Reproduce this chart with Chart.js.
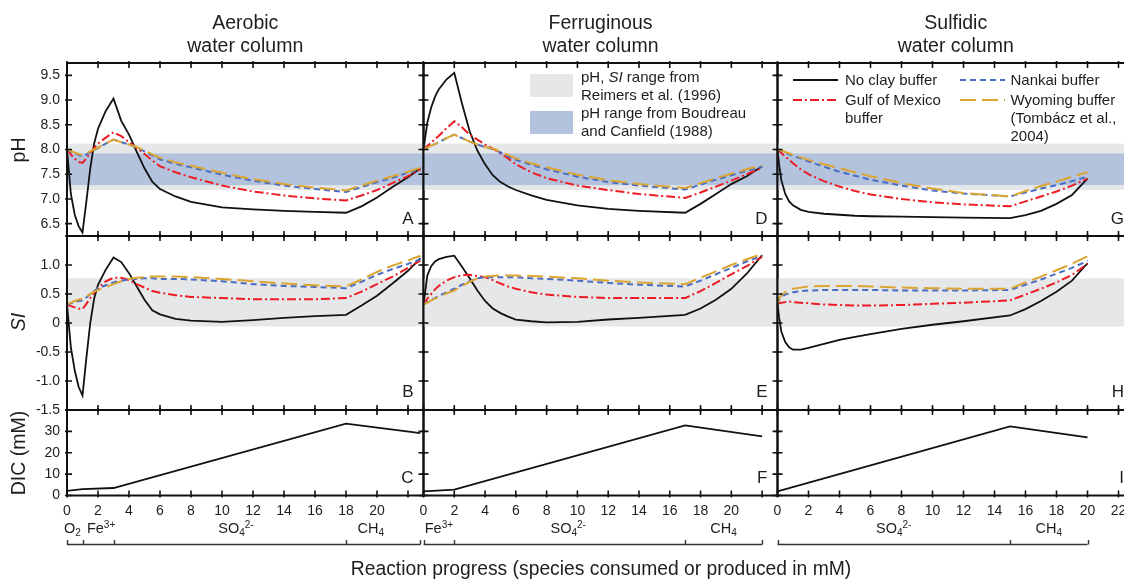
<!DOCTYPE html>
<html>
<head>
<meta charset="utf-8">
<script src="https://cdn.jsdelivr.net/npm/chart.js@4.4.0/dist/chart.umd.min.js"></script>
<style>
  html, body { margin: 0; padding: 0; background: #fff; overflow: hidden; }
  #wrap { position: relative; width: 1124px; height: 580px; overflow: hidden;
          font-family: "Liberation Sans", Arial, Helvetica, sans-serif; color: #1e1e1e; }
  .pane { position: absolute; left: 0; top: 0; }
  .txt { position: absolute; white-space: nowrap; }
  .ctitle { font-size: 19.5px; line-height: 23px; text-align: center; transform: translateX(-50%); }
  .ytitle { font-size: 19.5px; line-height: 1; transform: translate(-50%, -50%) rotate(-90deg); }
  .letter { font-size: 17px; line-height: 1; transform: translateX(-100%); }
  .leg { font-size: 15px; }
  .species { font-size: 14.5px; line-height: 1; transform: translateX(-50%); }
  .species sub, .species sup { font-size: 10px; line-height: 0; }
  .species sub { vertical-align: -3px; }
  .species sup { vertical-align: 5px; }
  .box { position: absolute; }
</style>
</head>
<body>
<div id="wrap"></div>
<script>
// ---- data ----
const AER_X = [0, 0.25, 0.5, 0.75, 1, 1.25, 1.5, 1.75, 2, 2.5, 3, 3.5, 4, 4.5, 5, 5.5, 6, 7, 8, 10, 12, 14, 16, 18, 19, 20, 21, 22, 22.8];
const PH_AER_NOCLAY  = [8.0, 7.1, 6.68, 6.45, 6.32, 6.95, 7.62, 8.12, 8.42, 8.78, 9.03, 8.58, 8.3, 7.95, 7.62, 7.35, 7.2, 7.05, 6.94, 6.83, 6.79, 6.76, 6.74, 6.72, 6.85, 7.03, 7.24, 7.44, 7.62];
const PH_AER_GULF    = [8.0, 7.9, 7.81, 7.75, 7.73, 7.82, 7.93, 8.03, 8.12, 8.24, 8.35, 8.27, 8.15, 8.03, 7.91, 7.78, 7.66, 7.54, 7.44, 7.27, 7.15, 7.07, 7.01, 6.97, 7.07, 7.18, 7.32, 7.46, 7.6];
const PH_AER_NANKAI  = [8.0, 7.96, 7.93, 7.89, 7.86, 7.9, 7.94, 7.99, 8.03, 8.12, 8.2, 8.15, 8.1, 8.04, 7.96, 7.88, 7.8, 7.71, 7.64, 7.49, 7.37, 7.27, 7.2, 7.14, 7.24, 7.34, 7.43, 7.53, 7.61];
const PH_AER_WYOMING = [8.0, 7.97, 7.94, 7.91, 7.88, 7.92, 7.96, 8.0, 8.04, 8.12, 8.2, 8.15, 8.1, 8.05, 7.98, 7.9, 7.83, 7.74, 7.67, 7.53, 7.4, 7.3, 7.23, 7.17, 7.27, 7.37, 7.46, 7.55, 7.63];
const SI_AER_NOCLAY  = [0.32, -0.42, -0.82, -1.1, -1.25, -0.6, 0.0, 0.42, 0.66, 0.92, 1.13, 1.05, 0.86, 0.63, 0.4, 0.22, 0.15, 0.07, 0.04, 0.02, 0.05, 0.09, 0.12, 0.14, 0.3, 0.47, 0.68, 0.9, 1.12];
const SI_AER_GULF    = [0.32, 0.29, 0.27, 0.25, 0.24, 0.33, 0.43, 0.52, 0.6, 0.72, 0.78, 0.78, 0.74, 0.67, 0.61, 0.55, 0.52, 0.48, 0.45, 0.43, 0.41, 0.41, 0.41, 0.43, 0.54, 0.67, 0.8, 0.95, 1.08];
const SI_AER_NANKAI  = [0.32, 0.34, 0.36, 0.38, 0.39, 0.44, 0.5, 0.55, 0.6, 0.65, 0.7, 0.73, 0.75, 0.76, 0.77, 0.77, 0.76, 0.76, 0.75, 0.72, 0.67, 0.64, 0.62, 0.6, 0.71, 0.83, 0.93, 1.02, 1.1];
const SI_AER_WYOMING = [0.32, 0.35, 0.38, 0.4, 0.42, 0.46, 0.5, 0.54, 0.57, 0.62, 0.67, 0.72, 0.76, 0.78, 0.79, 0.8, 0.8, 0.8, 0.79, 0.76, 0.72, 0.68, 0.65, 0.63, 0.75, 0.88, 0.99, 1.08, 1.16];
const DIC_AER_X = [0, 1, 3, 18, 22.8];
const DIC_AER   = [2.2, 3.0, 3.5, 33.6, 29.2];

const FER_X = [0, 0.25, 0.5, 0.75, 1, 1.5, 2, 2.5, 3, 3.5, 4, 4.5, 5, 5.5, 6, 7, 8, 10, 12, 14, 17, 18, 19, 20, 21, 22];
const PH_FER_NOCLAY  = [8.0, 8.55, 8.85, 9.07, 9.22, 9.42, 9.55, 8.93, 8.37, 7.98, 7.7, 7.48, 7.34, 7.25, 7.18, 7.07, 6.98, 6.87, 6.8, 6.76, 6.72, 6.9, 7.1, 7.3, 7.46, 7.66];
const PH_FER_GULF    = [8.0, 8.07, 8.14, 8.21, 8.28, 8.43, 8.57, 8.45, 8.3, 8.2, 8.1, 8.02, 7.92, 7.82, 7.7, 7.54, 7.42, 7.27, 7.18, 7.1, 7.02, 7.13, 7.25, 7.37, 7.5, 7.63];
const PH_FER_NANKAI  = [8.0, 8.04, 8.08, 8.11, 8.15, 8.23, 8.3, 8.23, 8.16, 8.1, 8.05, 8.01, 7.94, 7.86, 7.79, 7.69, 7.6, 7.45, 7.34, 7.27, 7.19, 7.29, 7.39, 7.48, 7.57, 7.65];
const PH_FER_WYOMING = [8.0, 8.04, 8.08, 8.11, 8.15, 8.23, 8.3, 8.23, 8.16, 8.1, 8.05, 8.02, 7.96, 7.89, 7.82, 7.72, 7.64, 7.49, 7.38, 7.3, 7.22, 7.32, 7.42, 7.51, 7.6, 7.68];
const SI_FER_NOCLAY  = [0.32, 0.82, 0.98, 1.06, 1.1, 1.14, 1.16, 0.97, 0.77, 0.56, 0.38, 0.25, 0.17, 0.11, 0.06, 0.03, 0.01, 0.02, 0.06, 0.09, 0.14, 0.25, 0.4, 0.59, 0.85, 1.17];
const SI_FER_GULF    = [0.32, 0.42, 0.5, 0.58, 0.64, 0.73, 0.79, 0.82, 0.83, 0.81, 0.79, 0.74, 0.68, 0.63, 0.59, 0.53, 0.49, 0.45, 0.43, 0.43, 0.43, 0.55, 0.69, 0.84, 0.98, 1.14];
const SI_FER_NANKAI  = [0.32, 0.36, 0.4, 0.43, 0.47, 0.53, 0.59, 0.66, 0.72, 0.77, 0.79, 0.79, 0.79, 0.79, 0.79, 0.77, 0.76, 0.73, 0.69, 0.66, 0.63, 0.73, 0.84, 0.95, 1.06, 1.16];
const SI_FER_WYOMING = [0.32, 0.35, 0.39, 0.42, 0.45, 0.51, 0.56, 0.64, 0.71, 0.77, 0.8, 0.81, 0.82, 0.82, 0.82, 0.81, 0.8, 0.77, 0.73, 0.7, 0.67, 0.78, 0.89, 1.0, 1.1, 1.19];
const DIC_FER_X = [0, 2, 17, 22];
const DIC_FER   = [1.9, 2.7, 32.8, 27.7];

const SUL_X = [0, 0.1, 0.25, 0.5, 0.75, 1, 1.5, 2, 3, 4, 5, 6, 8, 10, 12, 15, 16, 17, 18, 19, 20];
const PH_SUL_NOCLAY  = [8.0, 7.7, 7.38, 7.1, 6.95, 6.87, 6.78, 6.74, 6.7, 6.68, 6.66, 6.65, 6.64, 6.63, 6.62, 6.61, 6.67, 6.76, 6.9, 7.08, 7.41];
const PH_SUL_GULF    = [8.0, 7.97, 7.93, 7.86, 7.79, 7.72, 7.6, 7.5, 7.36, 7.25, 7.16, 7.09, 7.0, 6.93, 6.89, 6.85, 6.95, 7.05, 7.15, 7.27, 7.41];
const PH_SUL_NANKAI  = [8.0, 7.99, 7.97, 7.94, 7.9, 7.87, 7.82, 7.76, 7.65, 7.55, 7.47, 7.39, 7.27, 7.17, 7.11, 7.05, 7.13, 7.21, 7.28, 7.36, 7.45];
const PH_SUL_WYOMING = [8.0, 7.99, 7.98, 7.95, 7.92, 7.89, 7.84, 7.79, 7.7, 7.62, 7.54, 7.46, 7.32, 7.21, 7.12, 7.05, 7.16, 7.26, 7.35, 7.45, 7.54];
const SI_SUL_NOCLAY  = [0.33, 0.1, -0.15, -0.33, -0.42, -0.46, -0.46, -0.43, -0.36, -0.29, -0.24, -0.19, -0.1, -0.03, 0.03, 0.13, 0.24, 0.38, 0.54, 0.73, 1.03];
const SI_SUL_GULF    = [0.33, 0.34, 0.35, 0.36, 0.37, 0.36, 0.35, 0.34, 0.32, 0.31, 0.3, 0.3, 0.31, 0.33, 0.35, 0.39, 0.49, 0.59, 0.7, 0.83, 1.02];
const SI_SUL_NANKAI  = [0.33, 0.4, 0.45, 0.49, 0.51, 0.53, 0.55, 0.56, 0.57, 0.57, 0.57, 0.57, 0.56, 0.56, 0.56, 0.57, 0.66, 0.75, 0.85, 0.95, 1.07];
const SI_SUL_WYOMING = [0.33, 0.42, 0.48, 0.53, 0.57, 0.59, 0.61, 0.63, 0.64, 0.64, 0.64, 0.63, 0.61, 0.6, 0.59, 0.59, 0.7, 0.8, 0.91, 1.02, 1.15];
const DIC_SUL_X = [0, 15, 20];
const DIC_SUL   = [1.9, 32.3, 27.2];

// tick positions
const X_TICKS   = [0, 2, 4, 6, 8, 10, 12, 14, 16, 18, 20, 22];
const PH_TICKS  = [6.5, 7.0, 7.5, 8.0, 8.5, 9.0, 9.5];
const SI_TICKS  = [-1.5, -1.0, -0.5, 0, 0.5, 1.0, 1.5];
const DIC_TICKS = [0, 10, 20, 30, 40];

// literature ranges (shaded bands)
const PH_REIMERS   = [7.18, 8.12];
const PH_BOUDREAU  = [7.28, 7.92];
const SI_REIMERS   = [-0.06, 0.77];

// species segments along the reaction axis
const SEG_AER = [0, 1, 3, 18, 22.8];
const SEG_FER = [0, 2, 17, 22];
const SEG_SUL = [0, 15, 20];
const SPECIES_AER = ['O<sub>2</sub>', 'Fe<sup>3+</sup>', 'SO<sub>4</sub><sup>2-</sup>', 'CH<sub>4</sub>'];
const SPECIES_AER_AT = [0.35, 2.2, 10.9, 19.6];
const SPECIES_FER = ['Fe<sup>3+</sup>', 'SO<sub>4</sub><sup>2-</sup>', 'CH<sub>4</sub>'];
const SPECIES_FER_AT = [1, 9.4, 19.5];
const SPECIES_SUL = ['SO<sub>4</sub><sup>2-</sup>', 'CH<sub>4</sub>'];
const SPECIES_SUL_AT = [7.5, 17.5];

const SERIES = [
  { label: 'Wyoming buffer', color: '#dba531', dash: [16, 6], width: 2 },
  { label: 'Nankai buffer', color: '#4a6cc3', dash: [6, 4], width: 2 },
  { label: 'Gulf of Mexico buffer', color: '#ed1c24', dash: [9, 3, 2, 3], width: 2 },
  { label: 'No clay buffer', color: '#111111', dash: [], width: 1.8 }
];

// ---- layout ----
Chart.defaults.font.family = '"Liberation Sans", Arial, Helvetica, sans-serif';
Chart.defaults.color = '#1e1e1e';

const CW = 1160, CH = 580;
const COLS = [{ l: 67, r: 423.5 }, { l: 423.5, r: 777.5 }, { l: 777.5, r: 1134 }];
const ROWS = [{ t: 63, b: 236 }, { t: 236, b: 410 }, { t: 410, b: 495.5 }];
const Y_LABEL_W = 45, X_LABEL_H = 30;
const wrap = document.getElementById('wrap');

const framePlugin = {
  id: 'frame',
  afterDatasetsDraw(chart) {
    const { ctx, chartArea: a, scales: { x, y } } = chart;
    ctx.save();
    ctx.strokeStyle = '#111';
    ctx.lineWidth = 2;
    ctx.strokeRect(a.left, a.top, a.right - a.left, a.bottom - a.top);
    ctx.lineWidth = 1.6;
    ctx.beginPath();
    x.ticks.forEach(t => {
      const px = x.getPixelForValue(t.value);
      ctx.moveTo(px, a.top - 2); ctx.lineTo(px, a.top + 5);
      ctx.moveTo(px, a.bottom - 5); ctx.lineTo(px, a.bottom + 2);
    });
    y.ticks.forEach(t => {
      const py = y.getPixelForValue(t.value);
      ctx.moveTo(a.left - 2, py); ctx.lineTo(a.left + 5, py);
      ctx.moveTo(a.right - 5, py); ctx.lineTo(a.right + 2, py);
    });
    ctx.stroke();
    ctx.restore();
  }
};

function bandPlugin(bands) {
  return {
    id: 'bands',
    beforeDatasetsDraw(chart) {
      const { ctx, chartArea: a, scales: { y } } = chart;
      ctx.save();
      bands.forEach(b => {
        const y1 = y.getPixelForValue(b.range[1]);
        const y2 = y.getPixelForValue(b.range[0]);
        ctx.fillStyle = b.color;
        ctx.fillRect(a.left, y1, a.right - a.left, y2 - y1);
      });
      ctx.restore();
    }
  };
}

function bracketPlugin(bounds) {
  return {
    id: 'bracket',
    afterDraw(chart) {
      const { ctx, scales: { x } } = chart;
      const yb = 544.5;
      ctx.save();
      ctx.strokeStyle = '#333';
      ctx.lineWidth = 1.4;
      ctx.beginPath();
      ctx.moveTo(x.getPixelForValue(bounds[0]), yb);
      ctx.lineTo(x.getPixelForValue(bounds[bounds.length - 1]), yb);
      bounds.forEach(b => {
        const px = Math.round(x.getPixelForValue(b)) + 0.5;
        ctx.moveTo(px, yb - 4.5);
        ctx.lineTo(px, yb);
      });
      ctx.stroke();
      ctx.restore();
    }
  };
}

function points(xs, ys) {
  return xs.map((x, i) => ({ x: x, y: ys[i] }));
}

function lineSets(xs, list) {
  return list.map((ys, i) => ({
    label: SERIES[i].label,
    data: points(xs, ys),
    borderColor: SERIES[i].color,
    borderDash: SERIES[i].dash,
    borderWidth: SERIES[i].width,
    pointRadius: 0,
    tension: 0,
    fill: false
  }));
}

const Y_AXES = [
  { min: 6.25, max: 9.75, ticks: PH_TICKS, fmt: v => v.toFixed(1) },
  { min: -1.5, max: 1.5, ticks: SI_TICKS, fmt: v => v > 1.4 ? '' : (Math.abs(v) < 1e-9 ? '0' : v.toFixed(1)) },
  { min: 0, max: 40, ticks: DIC_TICKS, fmt: v => v > 35 ? '' : String(v) }
];

function panel(col, row, datasets, extraPlugins) {
  const cv = document.createElement('canvas');
  cv.width = CW; cv.height = CH;
  cv.className = 'pane';
  wrap.appendChild(cv);
  const c = COLS[col], r = ROWS[row], ya = Y_AXES[row];
  const yw = col === 0 ? Y_LABEL_W : 0;
  const xh = row === 2 ? X_LABEL_H : 0;
  const lastX = col === 2 ? 23 : 21;   // only the sulfidic column labels 22
  return new Chart(cv, {
    type: 'line',
    data: { datasets: datasets },
    options: {
      responsive: false,
      animation: false,
      devicePixelRatio: 1,
      layout: { padding: { left: c.l - yw, right: CW - c.r, top: r.t, bottom: CH - r.b - xh } },
      plugins: { legend: { display: false }, tooltip: { enabled: false } },
      scales: {
        x: {
          type: 'linear', min: 0, max: 23,
          afterBuildTicks: s => { s.ticks = X_TICKS.map(v => ({ value: v })); },
          afterFit: s => { s.height = xh; },
          grid: { display: false, drawTicks: false },
          border: { display: false },
          ticks: {
            display: row === 2, maxRotation: 0, autoSkip: false, padding: 7,
            font: { size: 14 }, color: '#1e1e1e',
            callback: v => v > lastX ? '' : String(v)
          }
        },
        y: {
          min: ya.min, max: ya.max,
          afterBuildTicks: s => { s.ticks = ya.ticks.map(v => ({ value: v })); },
          afterFit: s => { s.width = yw; },
          grid: { display: false, drawTicks: false },
          border: { display: false },
          ticks: {
            display: col === 0, padding: 7, autoSkip: false,
            font: { size: 14 }, color: '#1e1e1e',
            callback: ya.fmt
          }
        }
      }
    },
    plugins: [framePlugin].concat(extraPlugins || [])
  });
}

const GREY = '#e6e7e8', BLUE = '#b3c3de';
const phBands = () => bandPlugin([{ range: PH_REIMERS, color: GREY }, { range: PH_BOUDREAU, color: BLUE }]);
const siBands = () => bandPlugin([{ range: SI_REIMERS, color: GREY }]);
const dicSet = (xs, ys) => [{ data: points(xs, ys), borderColor: '#111', borderWidth: 1.8, pointRadius: 0, tension: 0 }];

panel(0, 0, lineSets(AER_X, [PH_AER_WYOMING, PH_AER_NANKAI, PH_AER_GULF, PH_AER_NOCLAY]), [phBands()]);
panel(0, 1, lineSets(AER_X, [SI_AER_WYOMING, SI_AER_NANKAI, SI_AER_GULF, SI_AER_NOCLAY]), [siBands()]);
const dicA = panel(0, 2, dicSet(DIC_AER_X, DIC_AER), [bracketPlugin(SEG_AER)]);

panel(1, 0, lineSets(FER_X, [PH_FER_WYOMING, PH_FER_NANKAI, PH_FER_GULF, PH_FER_NOCLAY]), [phBands()]);
panel(1, 1, lineSets(FER_X, [SI_FER_WYOMING, SI_FER_NANKAI, SI_FER_GULF, SI_FER_NOCLAY]), [siBands()]);
const dicF = panel(1, 2, dicSet(DIC_FER_X, DIC_FER), [bracketPlugin(SEG_FER)]);

panel(2, 0, lineSets(SUL_X, [PH_SUL_WYOMING, PH_SUL_NANKAI, PH_SUL_GULF, PH_SUL_NOCLAY]), [phBands()]);
panel(2, 1, lineSets(SUL_X, [SI_SUL_WYOMING, SI_SUL_NANKAI, SI_SUL_GULF, SI_SUL_NOCLAY]), [siBands()]);
const dicS = panel(2, 2, dicSet(DIC_SUL_X, DIC_SUL), [bracketPlugin(SEG_SUL)]);

// ---- text ----
function addText(html, x, y, cls, style) {
  const d = document.createElement('div');
  d.className = 'txt ' + cls;
  d.innerHTML = html;
  d.style.left = x + 'px';
  d.style.top = y + 'px';
  if (style) d.style.cssText += style;
  wrap.appendChild(d);
  return d;
}

const TITLES = ['Aerobic<br>water column', 'Ferruginous<br>water column', 'Sulfidic<br>water column'];
TITLES.forEach((t, i) => addText(t, (COLS[i].l + COLS[i].r) / 2, 10.5, 'ctitle'));

addText('pH', 18.5, 150, 'ytitle');
addText('<i>SI</i>', 18.5, 322, 'ytitle');
addText('DIC (mM)', 18.5, 452.5, 'ytitle');

const LETTERS = [['A', 'B', 'C'], ['D', 'E', 'F'], ['G', 'H', 'I']];
const LETTER_TOP = [209.6, 382.6, 469];
LETTERS.forEach((colL, ci) => colL.forEach((L, ri) => addText(L, COLS[ci].r - 10, LETTER_TOP[ri], 'letter')));

// species labels under the bottom axes
function speciesLabels(chart, names, at) {
  names.forEach((n, i) => addText(n, chart.scales.x.getPixelForValue(at[i]), 521, 'species'));
}
speciesLabels(dicA, SPECIES_AER, SPECIES_AER_AT);
speciesLabels(dicF, SPECIES_FER, SPECIES_FER_AT);
speciesLabels(dicS, SPECIES_SUL, SPECIES_SUL_AT);

addText('Reaction progress (species consumed or produced in mM)', 601, 558.5, 'xtitle',
  'font-size:19.3px;line-height:1;transform:translateX(-50%);');

// range legend (ferruginous pH panel)
function addBox(x, y, w, h, color) {
  const b = document.createElement('div');
  b.className = 'box';
  b.style.cssText = `left:${x}px;top:${y}px;width:${w}px;height:${h}px;background:${color};`;
  wrap.appendChild(b);
}
addBox(530, 74, 43, 23.3, GREY);
addBox(530, 110.7, 43, 23.3, BLUE);
addText('pH, <i>SI</i> range from<br>Reimers et al. (1996)<br>pH range from Boudreau<br>and Canfield (1988)',
  581, 68.4, 'leg', 'line-height:17.8px;');

// line legend (sulfidic pH panel)
function sample(x, yc, s) {
  const ns = 'http://www.w3.org/2000/svg';
  const svg = document.createElementNS(ns, 'svg');
  svg.setAttribute('width', 46); svg.setAttribute('height', 6);
  svg.style.cssText = `position:absolute;left:${x}px;top:${yc - 3}px;`;
  const ln = document.createElementNS(ns, 'line');
  ln.setAttribute('x1', 0); ln.setAttribute('y1', 3);
  ln.setAttribute('x2', 45); ln.setAttribute('y2', 3);
  ln.setAttribute('stroke', s.color);
  ln.setAttribute('stroke-width', 2);
  if (s.dash.length) ln.setAttribute('stroke-dasharray', s.dash.join(' '));
  svg.appendChild(ln);
  wrap.appendChild(svg);
}
sample(793, 80, SERIES[3]);
sample(793, 100, SERIES[2]);
sample(960, 80, SERIES[1]);
sample(960, 100, SERIES[0]);
addText('No clay buffer', 845, 71, 'leg', 'line-height:18px;');
addText('Gulf of Mexico<br>buffer', 845, 91, 'leg', 'line-height:18px;');
addText('Nankai buffer', 1010.5, 71, 'leg', 'line-height:18px;');
addText('Wyoming buffer<br>(Tombácz et al.,<br>2004)', 1010.5, 91, 'leg', 'line-height:18px;');
</script>
</body>
</html>
